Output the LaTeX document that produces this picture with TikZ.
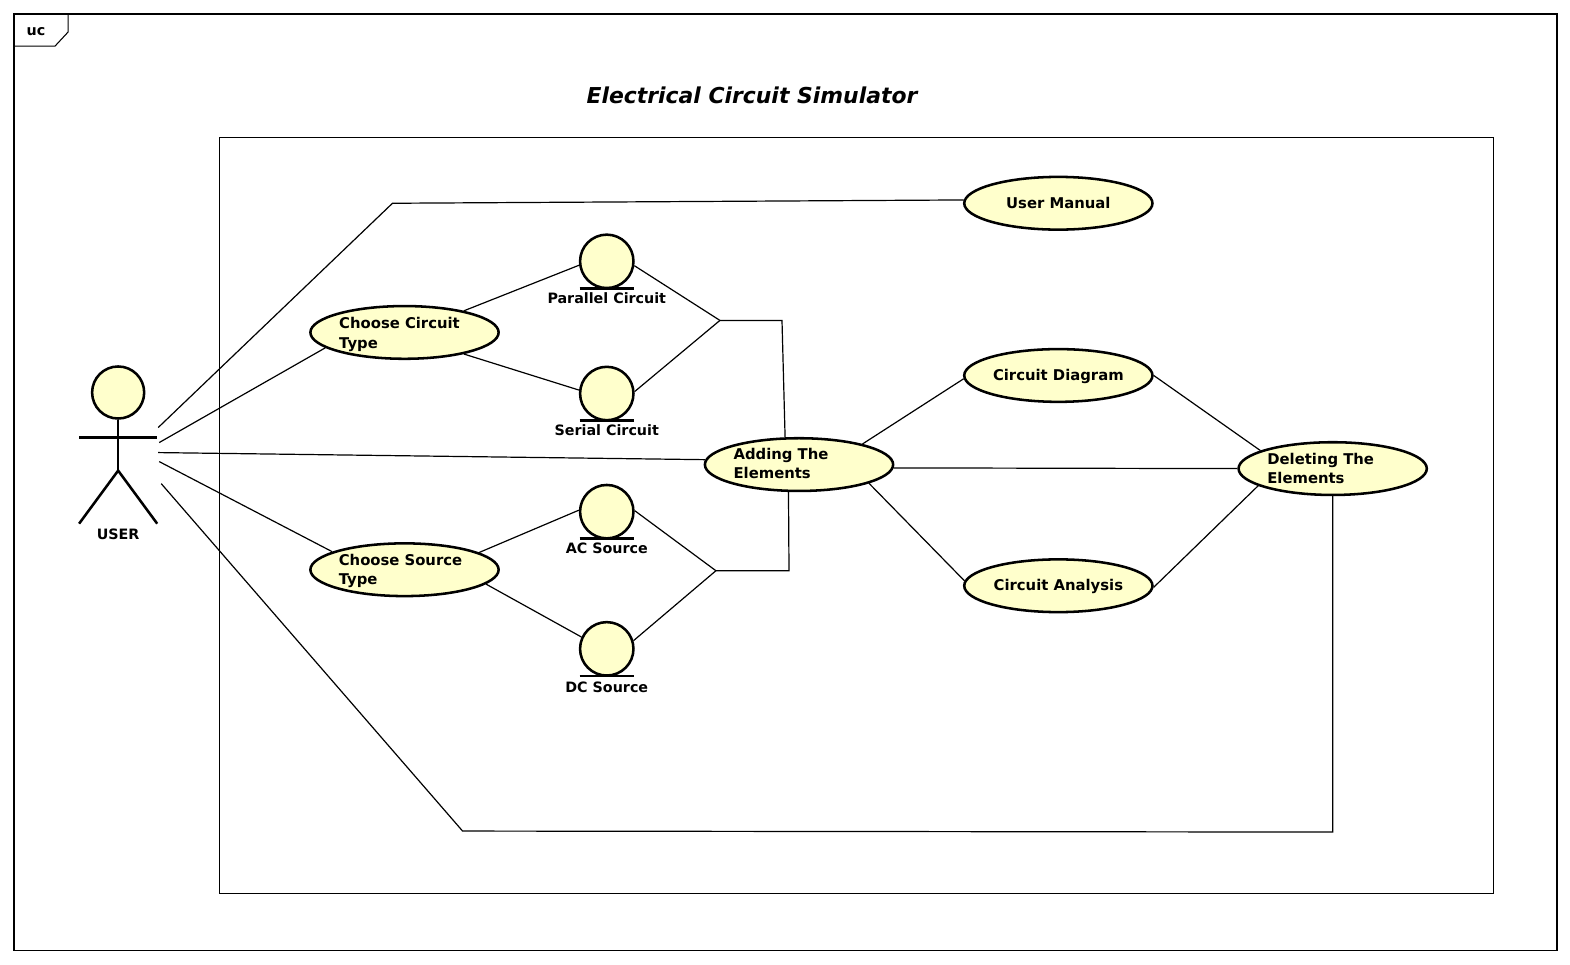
\documentclass[tikz,border=0pt]{standalone}
\usepackage{fontspec}
\setmainfont{DejaVu Sans}
\usetikzlibrary{shapes,positioning}
\definecolor{ucfill}{HTML}{FFFFCC}
\tikzset{
  ucase/.style={draw,ellipse,fill=ucfill,line width=1.9pt,minimum width=141pt,minimum height=39.5pt,inner sep=0pt},
  entity/.style={draw,circle,fill=ucfill,line width=1.9pt,minimum size=40pt,inner sep=0pt},
  uctext/.style={font=\bfseries\fontsize{10.7pt}{14.3pt}\selectfont,align=left,inner sep=0pt},
  casetext/.style={uctext,font=\bfseries\fontsize{11.1pt}{14.3pt}\selectfont},
  conn/.style={line width=0.9pt},
  stick/.style={line width=1.9pt},
  frameline/.style={line width=0.8pt}
}
\begin{document}
\begin{tikzpicture}[x=0.75pt,y=0.75pt,yscale=-1,xscale=1]
\useasboundingbox (0,0) rectangle (1568,962.8);

% frames
\draw[frameline] (14,14) rectangle (1555,949);
\draw[frameline] (219,137) rectangle (1492,892);
\draw[frameline] (14,46) -- (55,46) -- (68,32) -- (68,14);
\node[uctext] (tagtext) at (36,32) {uc};
\node[font=\bfseries\itshape\fontsize{16.4pt}{20pt}\selectfont,inner sep=0pt] (title) at (751,95) {Electrical Circuit Simulator};

% actor
\node[entity,minimum size=39pt] (head) at (118,392) {};
\coordinate (hip) at (118,470);
\coordinate (armL) at (79,437);
\coordinate (armR) at (157,437);
\coordinate (legL) at (79,523);
\coordinate (legR) at (157,523);
\draw[stick] (head) -- (hip);
\draw[stick] (armL) -- (armR);
\draw[stick] (legL) -- (hip) -- (legR);
\node[uctext] (usertext) at (118,534) {USER};

% use cases
\node[ucase] (manual) at (1057,203) {};
\node[casetext] (manualtext) at (1057,203) {User Manual};
\node[ucase] (circtype) at (404,332) {};
\node[casetext] (circtypetext) at (399,334) {Choose Circuit\\Type};
\node[ucase] (adding) at (798,464) {};
\node[casetext] (addingtext) at (780,463) {Adding The\\Elements};
\node[ucase] (srctype) at (404,569) {};
\node[casetext] (srctypetext) at (400,570) {Choose Source\\Type};
\node[ucase] (diagram) at (1057,375) {};
\node[casetext] (diagramtext) at (1057,376) {Circuit Diagram};
\node[ucase] (analysis) at (1057,585) {};
\node[casetext] (analysistext) at (1057,586) {Circuit Analysis};
\node[ucase] (deleting) at (1331,468) {};
\node[casetext] (deletingtext) at (1319,468) {Deleting The\\Elements};

% entities
\node[entity] (parallel) at (606,261) {};
\draw[stick] (579,288) -- (633,288);
\node[uctext] (paralleltext) at (606,298) {Parallel Circuit};
\node[entity] (serial) at (606,393) {};
\draw[stick] (579,420) -- (633,420);
\node[uctext] (serialtext) at (606,430) {Serial Circuit};
\node[entity] (ac) at (606,511) {};
\draw[stick] (579,538) -- (633,538);
\node[uctext] (actext) at (606,548) {AC Source};
\node[entity] (dc) at (606,648) {};
\draw[stick] (579,675) -- (633,675);
\node[uctext] (dctext) at (606,686) {DC Source};

% free ends
\coordinate (u1) at (158,427);
\coordinate (u2) at (159,442);
\coordinate (u3) at (158,452);
\coordinate (u4) at (159,461);
\coordinate (u5) at (161,483);
\coordinate (bend1) at (392,203);
\coordinate (bend2) at (462,830);
\coordinate (bend3) at (1331,831);
\coordinate (join1) at (719,320);
\coordinate (join1b) at (781,320);
\coordinate (join2) at (715,570);
\coordinate (join2b) at (788,570);

% connectors
\draw[conn] (u1) -- (bend1) -- (manual.178);
\draw[conn] (u2) -- (circtype.191.5);
\draw[conn] (u3) -- (adding.177.5);
\draw[conn] (u4) -- (srctype.166.3);
\draw[conn] (u5) -- (bend2) -- (bend3) -- (deleting.270);
\draw[conn] (circtype.20) -- (parallel.188.7);
\draw[conn] (circtype.340) -- (serial.173.4);
\draw[conn] (srctype.13.7) -- (ac.177.8);
\draw[conn] (srctype.350) -- (dc.155);
\draw[conn] (parallel.351.6) -- (join1) -- (join1b) -- (adding.117);
\draw[conn] (serial.4.2) -- (join1);
\draw[conn] (ac.2) -- (join2) -- (join2b) -- (adding.249);
\draw[conn] (dc.17) -- (join2);
\draw[conn] (adding.18.4) -- (diagram.182.5);
\draw[conn] (adding.358) -- (deleting.180.6);
\draw[conn] (adding.345.8) -- (analysis.177.5);
\draw[conn] (diagram.0.6) -- (deleting.166.7);
\draw[conn] (analysis.359) -- (deleting.193.3);

\end{tikzpicture}
\end{document}
